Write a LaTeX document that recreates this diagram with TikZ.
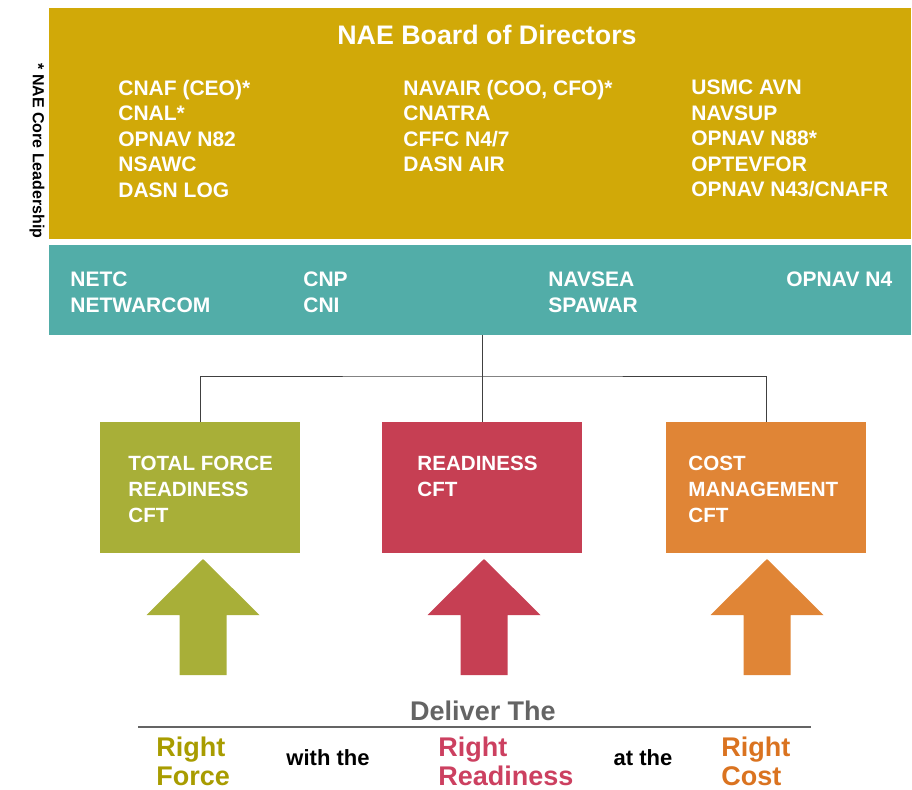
\documentclass[tikz,border=0pt]{standalone}
\usepackage{fontspec}
\setmainfont{Liberation Sans}
\usetikzlibrary{calc}

\definecolor{boardgold}{RGB}{209,169,8}
\definecolor{supportteal}{RGB}{82,173,168}
\definecolor{forcegreen}{RGB}{168,175,56}
\definecolor{readyred}{RGB}{198,63,83}
\definecolor{costorange}{RGB}{224,133,54}
\definecolor{forcetext}{RGB}{168,156,0}
\definecolor{readytext}{RGB}{204,64,96}
\definecolor{costtext}{RGB}{218,115,32}
\definecolor{delivergray}{RGB}{100,100,100}

\begin{document}
\begin{tikzpicture}[x=0.5pt, y=-0.5pt,
  panel/.style={inner sep=0pt, minimum width=431pt},
  cftbox/.style={inner sep=0pt, minimum width=100pt, minimum height=65.5pt},
  listtext/.style={anchor=north west, inner sep=0pt, align=left, text=white,
    font=\bfseries\fontsize{10.5}{12.75}\selectfont},
  cfttext/.style={anchor=north west, inner sep=0pt, align=left, text=white,
    font=\bfseries\fontsize{10.3}{13}\selectfont},
  righttext/.style={anchor=north west, inner sep=0pt, align=left,
    font=\bfseries\fontsize{13.5}{14.5}\selectfont},
  jointext/.style={inner sep=0pt, font=\bfseries\fontsize{11}{13}\selectfont},
  connector/.style={draw=black!75, line width=0.5pt}]

\useasboundingbox (0,0) rectangle (912,789);

% Board and support panels
\node[panel, fill=boardgold, minimum height=115.5pt] (board) at (480,123.5) {};
\node[panel, fill=supportteal, minimum height=45pt] (teal) at (480,290) {};

% Side label
\node[rotate=-90, inner sep=0pt, font=\bfseries\fontsize{8}{9}\selectfont] (coreleader) at (37,151) {* NAE Core Leadership};

% Board of directors
\node[inner sep=0pt, text=white, font=\bfseries\fontsize{13.4}{15}\selectfont] (boardtitle) at (487,35) {NAE Board of Directors};
\node[listtext] (boardcola) at (118,79.5) {CNAF (CEO)*\\CNAL*\\OPNAV N82\\NSAWC\\DASN LOG};
\node[listtext] (boardcolb) at (403,79.5) {NAVAIR (COO, CFO)*\\CNATRA\\CFFC N4/7\\DASN AIR};
\node[listtext] (boardcolc) at (691,79.5) {USMC AVN\\NAVSUP\\OPNAV N88*\\OPTEVFOR\\OPNAV N43/CNAFR};

% Supporting commands
\node[listtext] (tealcola) at (70,271.5) {NETC\\NETWARCOM};
\node[listtext] (tealcolb) at (303,271.5) {CNP\\CNI};
\node[listtext] (tealcolc) at (548,271.5) {NAVSEA\\SPAWAR};
\node[listtext] (tealcold) at (786,271.5) {OPNAV N4};

% Cross functional teams
\node[cftbox, fill=forcegreen] (totalforce) at (200,487.5) {};
\node[cftbox, fill=readyred] (ready) at (482,487.5) {};
\node[cftbox, fill=costorange] (cost) at (766,487.5) {};

\node[cfttext] (totalforcetext) at (128,456) {TOTAL FORCE\\READINESS\\CFT};
\node[cfttext] (readytext) at (417,456) {READINESS\\CFT};
\node[cfttext] (costtext) at (688,456) {COST\\MANAGEMENT\\CFT};

% Connectors
\coordinate (split) at (ready.north |- 0,376);
\draw[connector] (teal.south -| ready.north) -- (ready.north);
\draw[connector] (totalforce.north) |- (split) -| (cost.north);

% Arrows
\foreach \x/\c in {203/forcegreen, 484/readyred, 767/costorange}
  \fill[\c] (\x,559) -- ++(56.5,56) -- ++(-33,0) -- ++(0,60) -- ++(-47,0)
    -- ++(0,-60) -- ++(-33,0) -- cycle;

% Deliver the
\node[inner sep=0pt, text=delivergray, font=\bfseries\fontsize{13.5}{15}\selectfont] (deliver) at (483,711) {Deliver The};
\coordinate (rulel) at (138,727);
\coordinate (ruler) at (811,727);
\draw[draw=delivergray, line width=1pt] (rulel) -- (ruler);

\node[righttext, text=forcetext] (rightforce) at (156,737) {Right\\Force};
\node[jointext] (withthe) at (328,758) {with the};
\node[righttext, text=readytext] (rightready) at (438,737) {Right\\Readiness};
\node[jointext] (atthe) at (643,758) {at the};
\node[righttext, text=costtext] (rightcost) at (721,737) {Right\\Cost};
\end{tikzpicture}
\end{document}
